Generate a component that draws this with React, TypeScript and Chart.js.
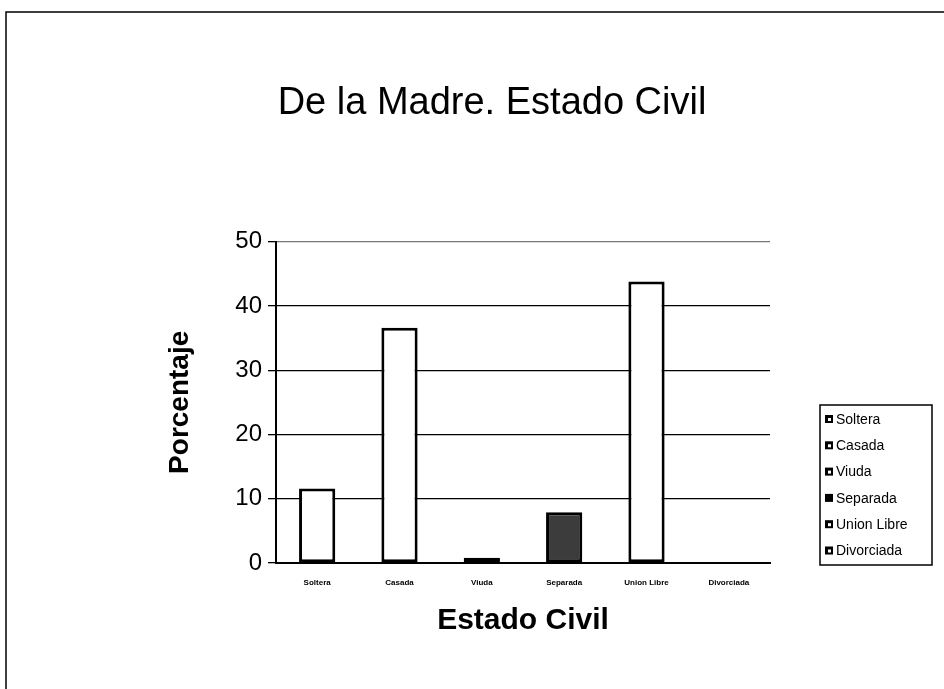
import { useEffect, useRef } from "react";
import { Chart, registerables } from "chart.js";

Chart.register(...registerables);

const categories = ["Soltera", "Casada", "Viuda", "Separada", "Union Libre", "Divorciada"];
const percentages = [11.6, 36.6, 0.8, 7.9, 43.8, 0];
const barFills = ["#ffffff", "#ffffff", "#1a1a1a", "#3c3c3c", "#ffffff", "#ffffff"];
const yTicks = [0, 10, 20, 30, 40, 50];
const chartTitle = "De la Madre. Estado Civil";
const yTitle = "Porcentaje";
const xTitle = "Estado Civil";

const FONT = "'Liberation Sans', Arial, Helvetica, sans-serif";

const framePlugin = {
  id: "frame",
  beforeDraw(chart: any) {
    const ctx = chart.ctx;
    ctx.save();
    ctx.fillStyle = "#ffffff";
    ctx.fillRect(0, 0, chart.width, chart.height);
    ctx.strokeStyle = "#000";
    ctx.lineWidth = 1.5;
    ctx.beginPath();
    ctx.moveTo(6, chart.height);
    ctx.lineTo(6, 12);
    ctx.lineTo(chart.width, 12);
    ctx.stroke();
    ctx.restore();
  },
};

const legendPlugin = {
  id: "boxLegend",
  afterDraw(chart: any) {
    const ctx = chart.ctx;
    const labels: string[] = chart.data.labels;
    const x0 = chart.chartArea.right + 50;
    const y0 = 405;
    const w = 112;
    const rowH = 26.3;
    const h = 160;
    ctx.save();
    ctx.strokeStyle = "#000";
    ctx.lineWidth = 1.5;
    ctx.strokeRect(x0, y0, w, h);
    ctx.font = `14px ${FONT}`;
    ctx.textBaseline = "middle";
    ctx.textAlign = "left";
    labels.forEach((lab, i) => {
      const cy = y0 + 14 + i * rowH;
      ctx.fillStyle = "#000";
      ctx.fillRect(x0 + 5, cy - 4, 8, 8);
      if (i !== 3) {
        ctx.fillStyle = "#fff";
        ctx.fillRect(x0 + 8, cy - 1, 3, 3);
      }
      ctx.fillStyle = "#000";
      ctx.fillText(lab, x0 + 16, cy + 1);
    });
    ctx.restore();
  },
};

export default function App() {
  const canvasRef = useRef<HTMLCanvasElement | null>(null);

  useEffect(() => {
    if (!canvasRef.current) return;
    Chart.defaults.font.family = FONT;
    const chart = new Chart(canvasRef.current, {
      type: "bar",
      data: {
        labels: categories,
        datasets: [
          {
            label: yTitle,
            data: percentages,
            backgroundColor: barFills,
            borderColor: "#000000",
            borderWidth: 3,
            borderSkipped: false,
            categoryPercentage: 1,
            barPercentage: 0.44,
          },
        ],
      },
      options: {
        animation: false,
        responsive: true,
        maintainAspectRatio: false,
        layout: { padding: { left: 40, right: 0, top: 0, bottom: 0 } },
        plugins: {
          legend: { display: false },
          tooltip: { enabled: false },
          title: {
            display: true,
            text: chartTitle,
            color: "#000",
            font: { size: 38, weight: "normal", family: FONT },
            padding: { top: 81, bottom: 115 },
          },
        },
        scales: {
          x: {
            grid: { display: true, drawOnChartArea: false, drawTicks: false },
            border: { color: "#000", width: 2 },
            ticks: {
              color: "#000",
              font: { size: 8, weight: "bold", family: FONT },
              padding: 15,
              maxRotation: 0,
              autoSkip: false,
            },
            title: {
              display: true,
              text: xTitle,
              color: "#000",
              font: { size: 30, weight: "bold", family: FONT },
              padding: { top: 0, bottom: 50 },
            },
            afterFit: (s: any) => {
              s.height = 126;
            },
          },
          y: {
            min: 0,
            max: 50,
            afterBuildTicks: (s: any) => {
              s.ticks = yTicks.map((v) => ({ value: v }));
            },
            grid: {
              color: (c: any) => (c.tick && c.tick.value === 50 ? "#777" : "#000"),
              lineWidth: 1.3,
              tickLength: 8,
              tickColor: "#000",
            },
            border: { color: "#000", width: 2 },
            ticks: {
              color: "#000",
              font: { size: 24, family: FONT },
              padding: 6,
            },
            title: {
              display: true,
              text: yTitle,
              color: "#000",
              font: { size: 28, weight: "bold", family: FONT },
              padding: { top: 123, bottom: 0 },
            },
            afterFit: (s: any) => {
              s.width = 236;
            },
          },
          yRight: {
            type: "linear",
            position: "right",
            display: true,
            grid: { display: false },
            border: { display: false },
            ticks: { display: false },
            afterFit: (s: any) => {
              s.width = 174;
            },
          },
        },
      },
      plugins: [framePlugin, legendPlugin],
    });
    return () => chart.destroy();
  }, []);

  return (
    <div style={{ position: "fixed", left: 0, top: 0, width: 944, height: 689, background: "#fff" }}>
      <canvas ref={canvasRef} />
    </div>
  );
}
